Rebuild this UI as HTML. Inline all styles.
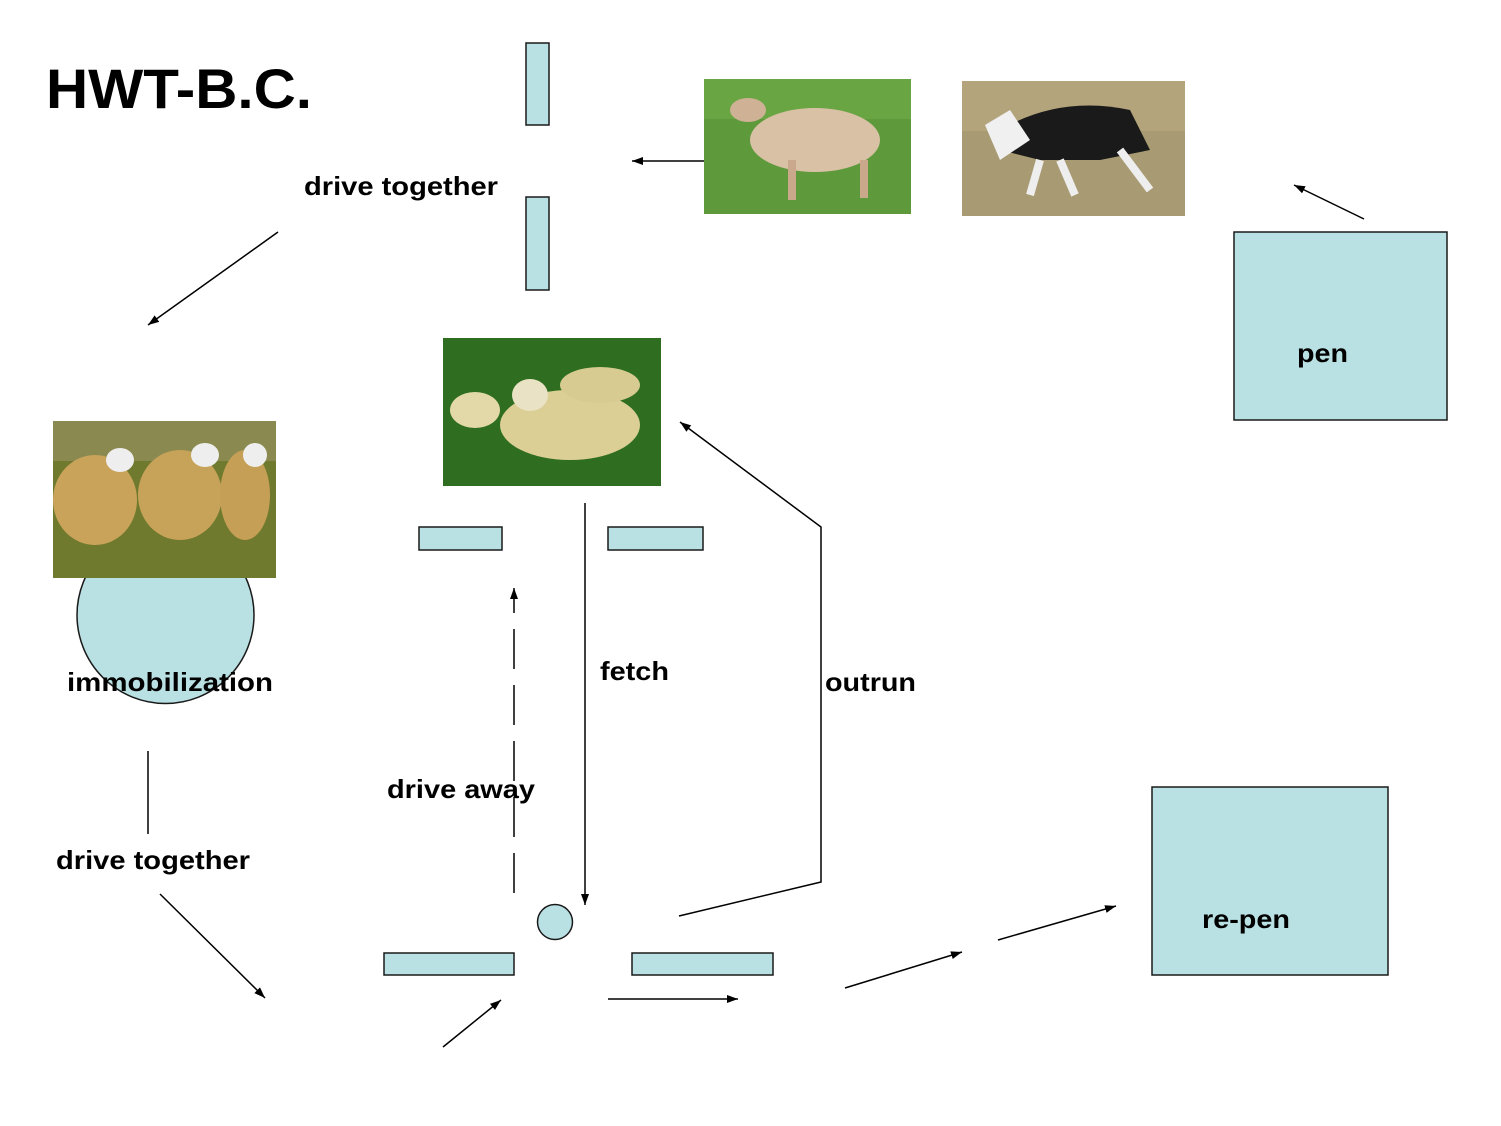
<!DOCTYPE html>
<html><head><meta charset="utf-8"><style>
html,body{margin:0;padding:0;background:#fff;}
svg{display:block;}
text{font-family:"Liberation Sans",Arial,sans-serif;font-weight:bold;fill:#000;}
</style></head><body>
<svg width="1501" height="1126" viewBox="0 0 1501 1126" xmlns="http://www.w3.org/2000/svg">
<defs>
<marker id="a" markerWidth="12" markerHeight="10" refX="11" refY="5" orient="auto" markerUnits="userSpaceOnUse">
<path d="M0,1 L11,5 L0,9 Z" fill="#000"/></marker>
</defs>
<text x="46" y="108" font-size="56" textLength="266" lengthAdjust="spacingAndGlyphs">HWT-B.C.</text>
<g fill="#b9e0e3" stroke="#1a1a1a" stroke-width="1.5">
<rect x="526" y="43" width="23" height="82"/>
<rect x="526" y="197" width="23" height="93"/>
<rect x="1234" y="232" width="213" height="188"/>
<circle cx="165.5" cy="615" r="88.5"/>
<rect x="419" y="527" width="83" height="23"/>
<rect x="608" y="527" width="95" height="23"/>
<circle cx="555" cy="922" r="17.5"/>
<rect x="384" y="953" width="130" height="22"/>
<rect x="632" y="953" width="141" height="22"/>
<rect x="1152" y="787" width="236" height="188"/>
</g>
<g>
<rect x="704" y="79" width="207" height="135" fill="#5e9a3c"/>
<rect x="704" y="79" width="207" height="40" fill="#6aa544"/>
<ellipse cx="815" cy="140" rx="65" ry="32" fill="#d9c1a6"/>
<ellipse cx="748" cy="110" rx="18" ry="12" fill="#cfb295"/>
<rect x="788" y="160" width="8" height="40" fill="#c9a88c"/><rect x="860" y="160" width="8" height="38" fill="#c9a88c"/>
<rect x="962" y="81" width="223" height="135" fill="#a89a72"/>
<rect x="962" y="81" width="223" height="50" fill="#b3a47c"/>
<path d="M1000,130 Q1060,95 1130,110 L1150,150 L1100,160 L1040,160 L1000,150 Z" fill="#1a1a1a"/>
<path d="M985,125 L1010,110 L1030,140 L1000,160 Z" fill="#f0f0f0"/>
<path d="M1040,160 L1030,195 M1060,160 L1075,195 M1120,150 L1150,190" stroke="#eee" stroke-width="8"/>
<rect x="443" y="338" width="218" height="148" fill="#2f6e20"/>
<ellipse cx="570" cy="425" rx="70" ry="35" fill="#dccf96"/>
<ellipse cx="475" cy="410" rx="25" ry="18" fill="#e3d8a8"/>
<ellipse cx="600" cy="385" rx="40" ry="18" fill="#d8cb92"/>
<ellipse cx="530" cy="395" rx="18" ry="16" fill="#e9e2c4"/>
<rect x="53" y="421" width="223" height="157" fill="#6f7a2e"/>
<rect x="53" y="421" width="223" height="40" fill="#8a8a50"/>
<ellipse cx="95" cy="500" rx="42" ry="45" fill="#c9a35a"/>
<ellipse cx="180" cy="495" rx="42" ry="45" fill="#c7a259"/>
<ellipse cx="245" cy="495" rx="25" ry="45" fill="#c59f55"/>
<ellipse cx="120" cy="460" rx="14" ry="12" fill="#eee"/><ellipse cx="205" cy="455" rx="14" ry="12" fill="#eee"/><ellipse cx="255" cy="455" rx="12" ry="12" fill="#eee"/>
</g>
<g stroke="#000" stroke-width="1.5" fill="none">
<line x1="704" y1="161" x2="632" y2="161" marker-end="url(#a)"/>
<line x1="1364" y1="219" x2="1294" y2="185" marker-end="url(#a)"/>
<line x1="278" y1="232" x2="148" y2="325" marker-end="url(#a)"/>
<line x1="585" y1="503" x2="585" y2="905" marker-end="url(#a)"/>
<polyline points="679,916 821,882 821,527 680,422" marker-end="url(#a)"/>
<line x1="514" y1="893" x2="514" y2="588" stroke-dasharray="40,16" marker-end="url(#a)"/>
<line x1="148" y1="751" x2="148" y2="834"/>
<line x1="160" y1="894" x2="265" y2="998" marker-end="url(#a)"/>
<line x1="443" y1="1047" x2="501" y2="1000" marker-end="url(#a)"/>
<line x1="608" y1="999" x2="738" y2="999" marker-end="url(#a)"/>
<line x1="845" y1="988" x2="962" y2="952" marker-end="url(#a)"/>
<line x1="998" y1="940" x2="1116" y2="906" marker-end="url(#a)"/>
</g>
<g font-size="26">
<text x="304" y="195" textLength="194" lengthAdjust="spacingAndGlyphs">drive together</text>
<text x="1297" y="362" textLength="51" lengthAdjust="spacingAndGlyphs">pen</text>
<text x="67" y="691" textLength="206" lengthAdjust="spacingAndGlyphs">immobilization</text>
<text x="600" y="680" textLength="69" lengthAdjust="spacingAndGlyphs">fetch</text>
<text x="825" y="691" textLength="91" lengthAdjust="spacingAndGlyphs">outrun</text>
<text x="387" y="798" textLength="148" lengthAdjust="spacingAndGlyphs">drive away</text>
<text x="56" y="869" textLength="194" lengthAdjust="spacingAndGlyphs">drive together</text>
<text x="1202" y="928" textLength="88" lengthAdjust="spacingAndGlyphs">re-pen</text>
</g>
</svg>
</body></html>
